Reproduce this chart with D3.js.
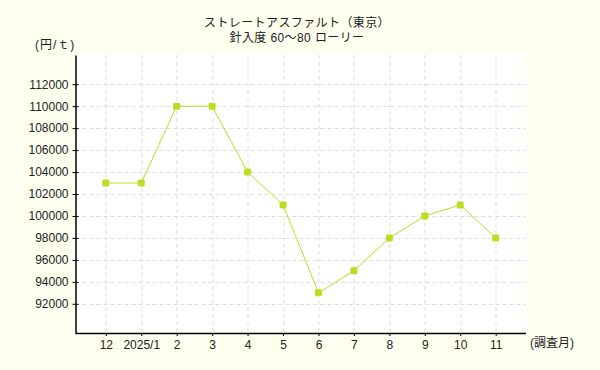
<!DOCTYPE html>
<html>
<head>
<meta charset="utf-8">
<script src="https://cdn.jsdelivr.net/npm/d3@7"></script>
<style>
    body { margin: 0; background: #fffff0; }
    text { font-family: "Liberation Sans", "Noto Sans CJK JP", sans-serif; fill: #222; }
</style>
</head>
<body>
<script>
// data
let months = ['12', '2025/1', '2', '3', '4', '5', '6', '7', '8', '9', '10', '11']
let prices = [103000, 103000, 110000, 110000, 104000, 101000, 93000, 95000, 98000, 100000, 101000, 98000]
let y_ticks = [92000, 94000, 96000, 98000, 100000, 102000, 104000, 106000, 108000, 110000, 112000]
let title_lines = ['ストレートアスファルト（東京）', '針入度 60〜80 ローリー']

let line_color = '#bbdd22'

let margin = {top: 55, right: 74, bottom: 37, left: 75.5},
    width = 600 - margin.left - margin.right,
    height = 370 - margin.top - margin.bottom;

let svg = d3.select('body').append('svg')
    .attr('width', 600)
    .attr('height', 370)

svg.append('rect')
    .attr('width', 600)
    .attr('height', 370)
    .attr('fill', '#fffff0')

let g = svg.append('g')
    .attr('transform', `translate(${margin.left}, ${margin.top})`)

let x_scale = d3.scalePoint().domain(months).range([0, width]).padding(0.855)
let y_scale = d3.scaleLinear().domain([89340, 114660]).range([height, 0])

g.append('rect')
    .attr('width', width)
    .attr('height', height)
    .attr('fill', '#fff')

// grid
g.append('g')
    .selectAll('line')
    .data(y_ticks)
    .enter().append('line')
    .attr('x1', 0)
    .attr('x2', width)
    .attr('y1', d => Math.round(y_scale(d)) + 0.5)
    .attr('y2', d => Math.round(y_scale(d)) + 0.5)
    .attr('stroke', '#dddddd')
    .attr('stroke-dasharray', '4,3')

g.append('g')
    .selectAll('line')
    .data(months)
    .enter().append('line')
    .attr('x1', d => Math.round(x_scale(d)) + 0.5)
    .attr('x2', d => Math.round(x_scale(d)) + 0.5)
    .attr('y1', 0)
    .attr('y2', height)
    .attr('stroke', '#dddddd')
    .attr('stroke-dasharray', '4,3')

// axes
let x_axis = g.append('g')
    .attr('transform', `translate(0, ${height})`)
    .call(d3.axisBottom(x_scale).tickSize(3).tickPadding(4).tickSizeOuter(0))

let y_axis = g.append('g')
    .call(d3.axisLeft(y_scale).tickValues(y_ticks).tickFormat(d3.format('d'))
        .tickSize(3).tickPadding(4).tickSizeOuter(0))

y_axis.selectAll('.tick line').attr('x2', 3).attr('x1', -3)

;[x_axis, y_axis].forEach(a => {
    a.select('.domain').attr('stroke', '#000').attr('stroke-width', 1.5)
    a.selectAll('.tick line').attr('stroke', '#000')
    a.selectAll('text')
        .style('font-size', '12px')
        .style('font-family', '"Liberation Sans", "Noto Sans CJK JP", sans-serif')
        .attr('fill', '#222')
})
x_axis.select('.domain').attr('d', `M0,0.5H${width}`)

// line + markers
let line = d3.line()
    .x((d, i) => x_scale(months[i]))
    .y(d => y_scale(d))

g.append('path')
    .datum(prices)
    .attr('d', line)
    .attr('fill', 'none')
    .attr('stroke', line_color)
    .attr('stroke-width', 1)

g.append('g')
    .selectAll('rect')
    .data(prices)
    .enter().append('rect')
    .attr('x', (d, i) => x_scale(months[i]) - 3.5)
    .attr('y', d => y_scale(d) - 3.5)
    .attr('width', 7)
    .attr('height', 7)
    .attr('rx', 1.5)
    .attr('fill', line_color)

// titles
svg.append('g')
    .selectAll('text')
    .data(title_lines)
    .enter().append('text')
    .attr('x', 297)
    .attr('y', (d, i) => 27 + i * 15)
    .attr('text-anchor', 'middle')
    .style('font-size', '12px')
    .style('letter-spacing', '0.4px')
    .text(d => d)

svg.append('text')
    .attr('x', 35)
    .attr('y', 49)
    .style('font-size', '12px')
    .style('letter-spacing', '1px')
    .text('(円/ｔ)')

svg.append('text')
    .attr('x', 530)
    .attr('y', 347)
    .style('font-size', '12px')
    .text('(調査月)')
</script>
</body>
</html>
